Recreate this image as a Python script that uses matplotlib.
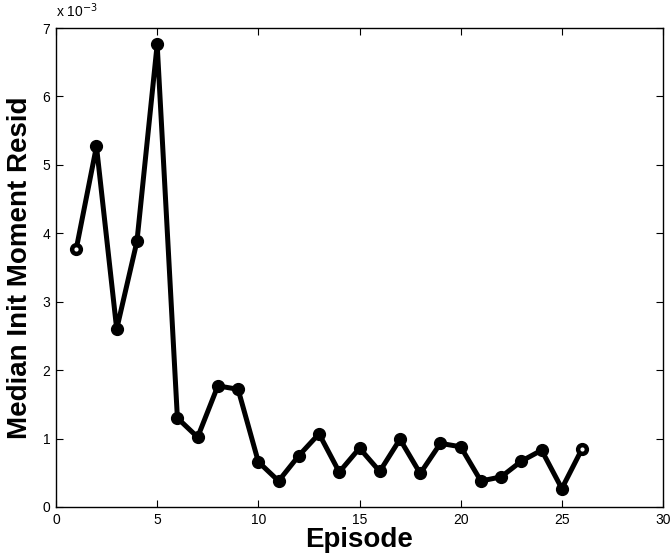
import numpy as np
import matplotlib
matplotlib.use("Agg")
import matplotlib.pyplot as plt

# median init moment residual per episode (units of 1e-3)
episode = np.arange(1, 27)
resid_e3 = [3.77, 5.27, 2.60, 3.88, 6.76, 1.30, 1.02, 1.77, 1.72, 0.66,
            0.38, 0.75, 1.07, 0.51, 0.86, 0.52, 0.99, 0.49, 0.93, 0.88,
            0.38, 0.44, 0.67, 0.83, 0.27, 0.85]
resid = np.array(resid_e3) * 1e-3

xticks = [0, 5, 10, 15, 20, 25, 30]
yticks_e3 = [0, 1, 2, 3, 4, 5, 6, 7]

plt.rcParams['font.family'] = ['Liberation Sans', 'DejaVu Sans']

fig = plt.figure(figsize=(6.70, 5.57), dpi=100)
ax = fig.add_axes([56 / 670, 1 - 507 / 557, (663 - 56) / 670, (507 - 28) / 557])

ax.plot(episode, resid, color='k', linewidth=3.6, marker='o', markersize=8.5,
        markerfacecolor='k', markeredgecolor='k', zorder=3)
# endpoints render with a small hollow centre in the original
ax.plot(episode[[0, -1]], resid[[0, -1]], linestyle='none', marker='o', markersize=2,
        markerfacecolor='w', markeredgecolor='w', zorder=4)

ax.set_xlim(0, 30)
ax.set_ylim(0, 7e-3)
ax.set_xticks(xticks)
ax.set_yticks(np.array(yticks_e3) * 1e-3)
ax.set_yticklabels([str(v) for v in yticks_e3])
ax.tick_params(direction='in', top=True, right=True, length=5, width=0.8,
               labelsize=10, pad=4)
for s in ax.spines.values():
    s.set_linewidth(1.0)

ax.text(0.0, 1.016, r'x 10$^{-3}$', transform=ax.transAxes, fontsize=10,
        ha='left', va='bottom')

ax.set_xlabel('Episode', fontsize=20, fontweight='bold', labelpad=0)
ax.set_ylabel('Median Init Moment Resid', fontsize=20, fontweight='bold', labelpad=7)

fig.savefig('out.png', dpi=100)
